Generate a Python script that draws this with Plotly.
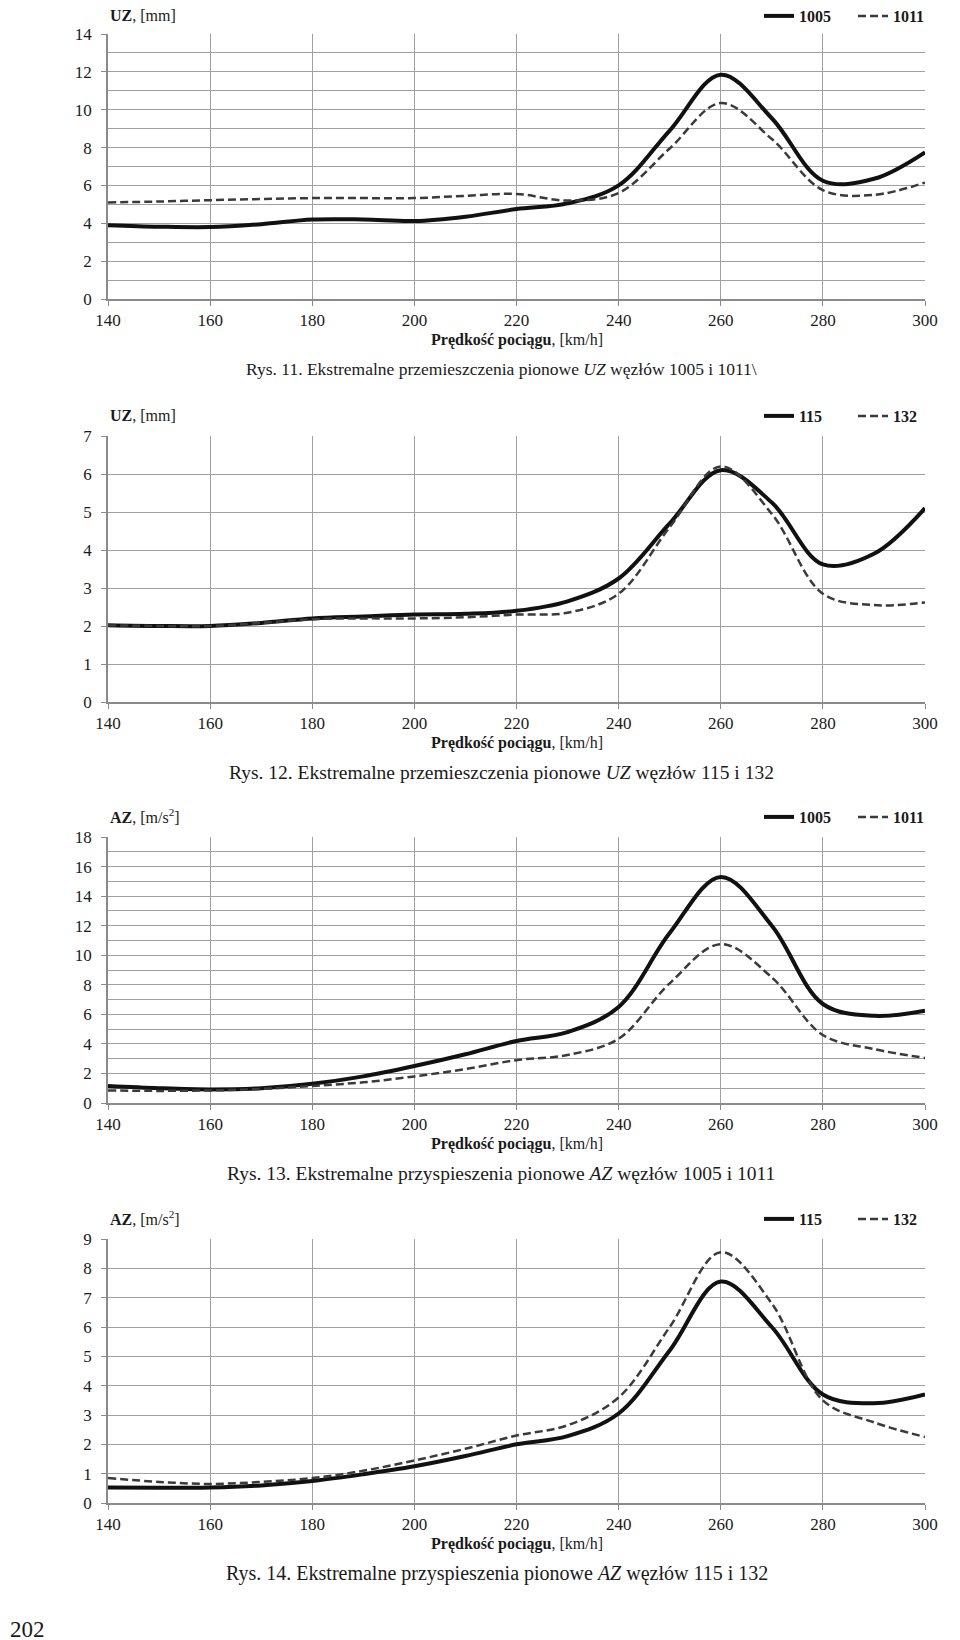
import plotly.graph_objects as go

speed = [140, 150, 160, 170, 180, 190, 200, 210, 220, 230, 240, 250, 260, 270, 280, 290, 300]

# Rys. 11 - UZ [mm], nodes 1005 / 1011
uz_1005 = [3.9, 3.82, 3.8, 3.95, 4.2, 4.2, 4.12, 4.35, 4.75, 5.05, 6.0, 8.9, 11.85, 9.55, 6.25, 6.35, 7.75]
uz_1011 = [5.1, 5.15, 5.22, 5.28, 5.33, 5.33, 5.33, 5.45, 5.55, 5.2, 5.6, 7.95, 10.35, 8.45, 5.75, 5.5, 6.15]

# Rys. 12 - UZ [mm], nodes 115 / 132
uz_115 = [2.02, 2.0, 2.0, 2.08, 2.2, 2.25, 2.3, 2.32, 2.4, 2.65, 3.25, 4.7, 6.1, 5.25, 3.62, 3.9, 5.1]
uz_132 = [2.02, 2.0, 2.0, 2.08, 2.18, 2.2, 2.2, 2.23, 2.3, 2.35, 2.85, 4.6, 6.2, 4.95, 2.85, 2.55, 2.62]

# Rys. 13 - AZ [m/s2], nodes 1005 / 1011
az_1005 = [1.15, 1.0, 0.92, 1.0, 1.3, 1.8, 2.5, 3.3, 4.2, 4.8, 6.5, 11.5, 15.3, 12.0, 6.7, 5.9, 6.25]
az_1011 = [0.85, 0.82, 0.85, 0.95, 1.15, 1.4, 1.8, 2.3, 2.9, 3.25, 4.35, 8.1, 10.75, 8.5, 4.6, 3.65, 3.05]

# Rys. 14 - AZ [m/s2], nodes 115 / 132
az_115 = [0.53, 0.52, 0.53, 0.6, 0.75, 0.98, 1.25, 1.6, 2.0, 2.28, 3.05, 5.2, 7.55, 6.0, 3.7, 3.4, 3.7]
az_132 = [0.85, 0.72, 0.65, 0.72, 0.85, 1.1, 1.45, 1.85, 2.3, 2.65, 3.6, 6.0, 8.55, 6.8, 3.5, 2.75, 2.25]

x_ticks = [140, 160, 180, 200, 220, 240, 260, 280, 300]
x_title = "<b>Prędkość pociągu</b>, [km/h]"

panels = [
    dict(s1=uz_1005, s2=uz_1011, n1="1005", n2="1011", ymax=14, dtick=2, minor=1,
         ytitle="<b>UZ</b>, [mm]",
         caption="Rys. 11. Ekstremalne przemieszczenia pionowe <i>UZ</i> węzłów 1005 i 1011\\",
         cap_size=17.5, cap_x=494, top=26, bottom=291, head=7),
    dict(s1=uz_115, s2=uz_132, n1="115", n2="132", ymax=7, dtick=1, minor=None,
         ytitle="<b>UZ</b>, [mm]",
         caption="Rys. 12. Ekstremalne przemieszczenia pionowe <i>UZ</i> węzłów 115 i 132",
         cap_size=19.5, cap_x=493, top=428, bottom=694, head=None),
    dict(s1=az_1005, s2=az_1011, n1="1005", n2="1011", ymax=18, dtick=2, minor=1,
         ytitle="<b>AZ</b>, [m/s<sup>2</sup>]",
         caption="Rys. 13. Ekstremalne przyspieszenia pionowe <i>AZ</i> węzłów 1005 i 1011",
         cap_size=19.5, cap_x=493, top=829, bottom=1095, head=None),
    dict(s1=az_115, s2=az_132, n1="115", n2="132", ymax=9, dtick=1, minor=None,
         ytitle="<b>AZ</b>, [m/s<sup>2</sup>]",
         caption="Rys. 14. Ekstremalne przyspieszenia pionowe <i>AZ</i> węzłów 115 i 132",
         cap_size=20, cap_x=489, top=1231, bottom=1495, head=None),
]

W, H = 960, 1640
XL, XR = 100, 917
FONT = "Liberation Serif"
GRID = "#a0a0a0"
TXT = "#1a1a1a"

def py(px):
    return 1 - px / H

fig = go.Figure()
layout = dict(
    width=W, height=H, margin=dict(l=0, r=0, t=0, b=0, autoexpand=False),
    paper_bgcolor="white", plot_bgcolor="white",
    font=dict(family=FONT, size=16, color=TXT),
    showlegend=True,
)
annotations = []

for i, p in enumerate(panels):
    k = "" if i == 0 else str(i + 1)
    leg = "legend" + k
    fig.add_trace(go.Scatter(
        x=speed, y=p["s1"], name="<b>" + p["n1"] + "</b>", mode="lines",
        line=dict(color="#111111", width=4, shape="spline", smoothing=1.0),
        xaxis="x" + k, yaxis="y" + k, legend=leg))
    fig.add_trace(go.Scatter(
        x=speed, y=p["s2"], name="<b>" + p["n2"] + "</b>", mode="lines",
        line=dict(color="#3a3a3a", width=2.5, dash="8px,4px", shape="spline", smoothing=1.0),
        xaxis="x" + k, yaxis="y" + k, legend=leg))

    ydom = [py(p["bottom"]), py(p["top"])]
    layout["xaxis" + k] = dict(
        domain=[XL / W, XR / W], anchor="y" + k, range=[140, 300],
        tickvals=x_ticks, showgrid=True, gridcolor=GRID, gridwidth=1,
        showline=True, linecolor="#8a8a8a", linewidth=1.6,
        ticks="outside", ticklen=5, tickcolor="#8a8a8a",
        tickfont=dict(family=FONT, size=17, color=TXT), zeroline=False, fixedrange=True,
        automargin=False)
    yax = dict(
        domain=ydom, anchor="x" + k, range=[0, p["ymax"]], dtick=p["dtick"], tick0=0,
        showgrid=True, gridcolor=GRID, gridwidth=1,
        showline=True, linecolor="#8a8a8a", linewidth=1.6,
        ticks="outside", ticklen=5, tickcolor="#8a8a8a", ticklabelstandoff=6,
        tickfont=dict(family=FONT, size=17, color=TXT), zeroline=False, fixedrange=True,
        automargin=False)
    if p["minor"]:
        yax["minor"] = dict(dtick=p["minor"], showgrid=True, gridcolor=GRID, gridwidth=1, ticks="")
    layout["yaxis" + k] = yax

    head_y = p["head"] if p["head"] is not None else p["top"] - 21
    layout[leg] = dict(
        orientation="h", x=751 / W, xanchor="left", y=py(head_y + 1), yanchor="middle",
        entrywidth=49, entrywidthmode="pixels",
        font=dict(family=FONT, size=16, color=TXT), bgcolor="rgba(0,0,0,0)",
        itemclick=False, itemdoubleclick=False, tracegroupgap=0, traceorder="normal")

    annotations.append(dict(
        text=p["ytitle"], x=XL / W, y=py(head_y), xref="paper", yref="paper",
        xanchor="left", yanchor="middle", showarrow=False,
        font=dict(family=FONT, size=16, color=TXT)))
    annotations.append(dict(
        text=x_title, x=(XL + XR) / 2 / W, y=py(p["bottom"] + 41), xref="paper", yref="paper",
        xanchor="center", yanchor="middle", showarrow=False,
        font=dict(family=FONT, size=16, color=TXT)))
    annotations.append(dict(
        text=p["caption"], x=p["cap_x"] / W, y=py(p["bottom"] + 70), xref="paper", yref="paper",
        xanchor="center", yanchor="middle", showarrow=False,
        font=dict(family=FONT, size=p["cap_size"], color=TXT)))

annotations.append(dict(
    text="202", x=0, y=py(1621), xref="paper", yref="paper",
    xanchor="left", yanchor="middle", showarrow=False,
    font=dict(family=FONT, size=23, color=TXT)))

layout["annotations"] = annotations
fig.update_layout(**layout)
fig.write_html("out.html")
